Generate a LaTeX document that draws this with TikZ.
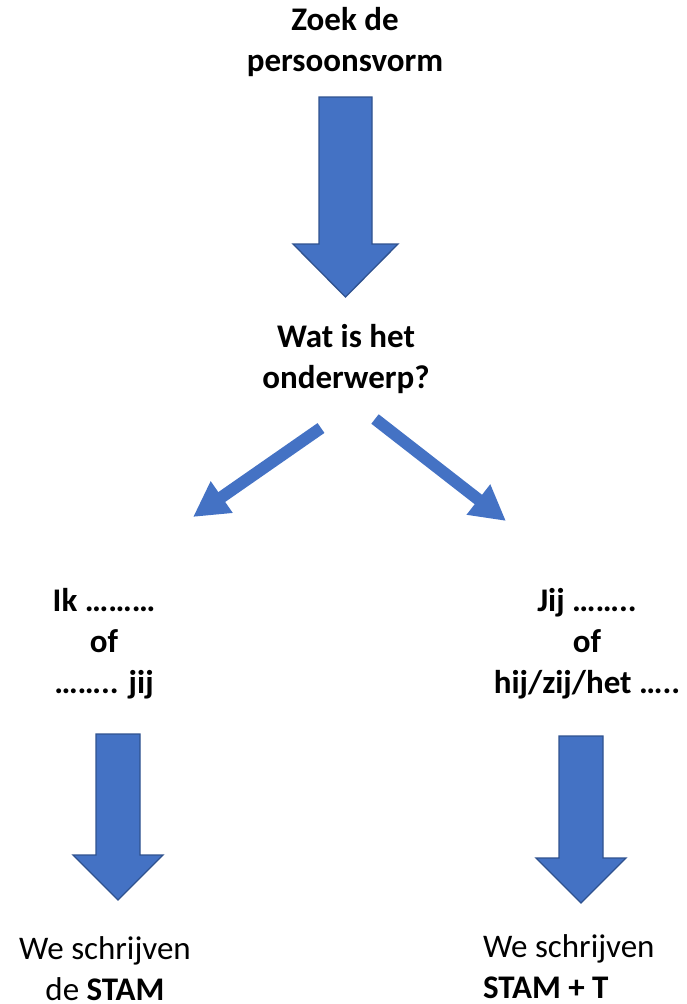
\documentclass[tikz,border=0pt]{standalone}
\usepackage{fontspec}
\setmainfont{Carlito}
\usetikzlibrary{arrows.meta}
\definecolor{arrowfill}{HTML}{4472C4}
\definecolor{arrowline}{HTML}{2F528F}
\tikzset{
  blockarrow/.style={fill=arrowfill, draw=arrowline, line width=1.3pt, line join=miter},
  diagarrow/.style={draw=arrowfill, line width=12pt, -{Triangle[length=35pt,width=36pt]}},
  label/.style={inner sep=0pt, outer sep=0pt, align=center, anchor=base, font=\fontsize{33}{41}\selectfont},
  leftlabel/.style={inner sep=0pt, outer sep=0pt, align=left, anchor=base west, font=\fontsize{33}{41}\selectfont}
}
% x, top, head base, tip, half shaft, half head
\newcommand\blockarr[6]{%
  \filldraw[blockarrow] (#1-#5,#2) -- (#1+#5,#2) -- (#1+#5,#3) -- (#1+#6,#3)
    -- (#1,#4) -- (#1-#6,#3) -- (#1-#5,#3) -- cycle;}
\begin{document}
\begin{tikzpicture}[x=1pt,y=-1pt]
\useasboundingbox (0,0) rectangle (687,1004);
% texts (anchor = baseline of the last line)
\node[label] (start) at (345,71) {\textbf{Zoek de}\\\textbf{persoonsvorm}};
\node[label] (q) at (346,388) {\textbf{Wat is het}\\\textbf{onderwerp?}};
\node[label] (l) at (104,693) {\textbf{Ik ………}\\\textbf{of}\\\textbf{…….. jij}};
\node[label] (r) at (587,693) {\textbf{Jij ……..}\\\textbf{of}\\\textbf{hij/zij/het …..}};
\node[label] (lres) at (105,1000) {We schrijven\\de \textbf{STAM}};
\node[leftlabel] (rres) at (483,998) {We schrijven\\\textbf{STAM + T}};
% arrows
\blockarr{345.5}{97}{244}{297}{26.5}{52.5}
\blockarr{118}{734}{855}{900}{22}{45}
\blockarr{581}{736}{858}{903}{22}{45}
\coordinate (dlt) at (321,428);
\coordinate (dlh) at (193,517);
\coordinate (drt) at (375,419);
\coordinate (drh) at (506,521);
\draw[diagarrow] (dlt) -- (dlh);
\draw[diagarrow] (drt) -- (drh);
\end{tikzpicture}
\end{document}
